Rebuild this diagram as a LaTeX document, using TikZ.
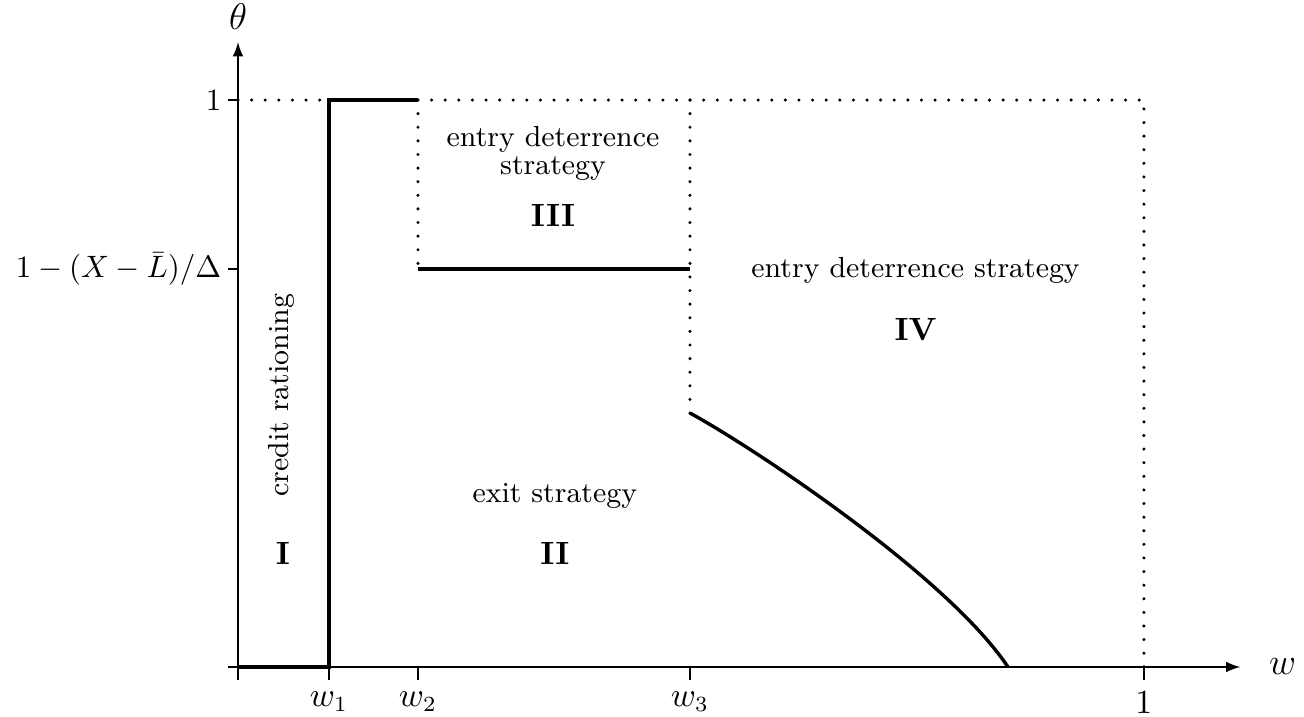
\documentclass[tikz,border=0pt]{standalone}
\usepackage{amsmath,amssymb}
\usetikzlibrary{arrows,positioning,calc}

\begin{document}
\begin{tikzpicture}[
    axis/.style={line width=0.6pt},
    bound/.style={line width=1.1pt},
    guide/.style={line width=1.1pt, line cap=round, dash pattern=on 0pt off 4.4pt},
    region/.style={align=center, inner sep=1pt, font=\fontsize{9.4}{9}\selectfont},
    numeral/.style={inner sep=1pt, font=\fontsize{10.4}{12}\selectfont\bfseries}]
    \useasboundingbox (-2.705,-0.568) rectangle (12.114,7.58);

    % Corner points of the regions
    \coordinate (O) at (0,0);
    \coordinate (A) at (1.034,0);
    \coordinate (B) at (1.034,6.443);
    \coordinate (C) at (2.045,6.443);
    \coordinate (D) at (2.045,4.523);
    \coordinate (E) at (5.136,4.523);
    \coordinate (E1) at (5.136,6.443);
    \coordinate (F) at (5.136,2.886);
    \coordinate (G) at (8.75,0);
    \coordinate (H) at (10.295,6.443);
    \coordinate (K) at (10.295,0);
    \coordinate (Y1) at (0,6.443);

    % Axes
    \draw[axis, -latex] (O) -- (11.39,0) node[right=0.2cm, font=\large] (wlab) {$w$};
    \draw[axis, -latex] (O) -- (0,7.10) node[above=0.02cm, font=\large] (thlab) {$\theta$};

    % Ticks
    \foreach \x/\lab [count=\i] in {0/{}, 1.034/{$w_1$}, 2.045/{$w_2$}, 5.136/{$w_3$}, 10.295/{$1$}}
        \draw[axis] (\x,0) -- (\x,-0.15) node[below, font=\fontsize{10.5}{12}\selectfont] (xt\i) {\lab};
    \foreach \y/\lab [count=\i] in {0/{}, 4.523/{$1-(X-\bar{L})/\Delta$}, 6.443/{$1$}}
        \draw[axis] (0,\y) -- (-0.11,\y) node[left, inner sep=2pt, font=\fontsize{10.4}{12}\selectfont] (yt\i) {\lab};

    % Boundaries
    \draw[bound] (O) -- (A) -- (B) -- (C);
    \draw[bound] (D) -- (E);
    \draw[bound] (F) .. controls (5.83,2.509) and (8.057,1.040) .. (G);

    % Dotted guides
    \draw[guide] (Y1) -- (B);
    \draw[guide] (C) -- (H) -- (K);
    \draw[guide] (C) -- (D);
    \draw[guide] (E1) -- (F);

    % Region labels
    \node[region, rotate=90] (crtxt) at (0.489,3.09) {credit rationing};
    \node[numeral] (r1) at (0.511,1.295) {I};
    \node[region] (extxt) at (3.60,1.943) {exit strategy};
    \node[numeral] (r2) at (3.60,1.295) {II};
    \node[region] (edtxt) at (3.58,5.84) {entry deterrence\\strategy};
    \node[numeral] (r3) at (3.58,5.136) {III};
    \node[region] (edtxt2) at (7.70,4.51) {entry deterrence strategy};
    \node[numeral] (r4) at (7.70,3.83) {IV};
\end{tikzpicture}
\end{document}
